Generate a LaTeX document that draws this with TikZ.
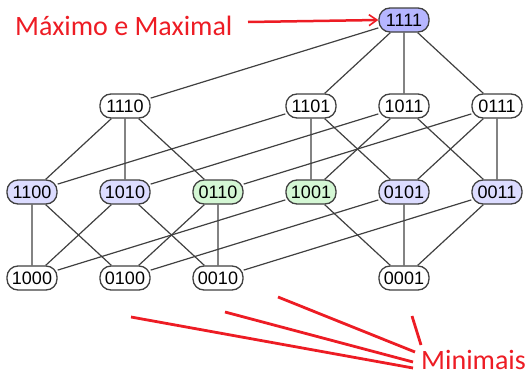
\documentclass[tikz,border=0pt]{standalone}
\usepackage{fontspec}
\setmainfont{Liberation Sans}
\newfontfamily\redfont{Carlito}
\usetikzlibrary{arrows.meta}
\definecolor{topblue}{RGB}{182,182,255}
\definecolor{lblue}{RGB}{220,220,255}
\definecolor{lgreen}{RGB}{212,247,212}
\definecolor{edgegray}{RGB}{64,64,64}
\definecolor{annred}{RGB}{237,28,36}
\begin{document}
\begin{tikzpicture}[x=1pt,y=-1pt,
  elem/.style={draw=edgegray,line width=1.3pt,rectangle,rounded corners=11pt,
    minimum width=50pt,minimum height=24pt,inner sep=0pt,
    font=\fontsize{18}{18}\selectfont,fill=white},
  bluenode/.style={elem,fill=lblue},
  greennode/.style={elem,fill=lgreen},
  topnode/.style={elem,fill=topblue},
  link/.style={draw=edgegray,line width=1.2pt},
  ann/.style={draw=annred,line width=2.8pt},
  anntext/.style={text=annred,font=\redfont\fontsize{28}{28}\selectfont,inner sep=0pt}]
\useasboundingbox (0,0) rectangle (529,375);
\path
  (404,20) coordinate (p1111)
  (125,106) coordinate (p1110) (311,106) coordinate (p1101) (404,106) coordinate (p1011) (497,106) coordinate (p0111)
  (32,192) coordinate (p1100) (125,192) coordinate (p1010) (218,192) coordinate (p0110)
  (311,192) coordinate (p1001) (404,192) coordinate (p0101) (497,192) coordinate (p0011)
  (32,278) coordinate (p1000) (125,278) coordinate (p0100) (218,278) coordinate (p0010) (404,278) coordinate (p0001);
\node[topnode] (n1111) at (p1111) {1111};
\node[elem] (n1110) at (p1110) {1110};
\node[elem] (n1101) at (p1101) {1101};
\node[elem] (n1011) at (p1011) {1011};
\node[elem] (n0111) at (p0111) {0111};
\node[bluenode] (n1100) at (p1100) {1100};
\node[bluenode] (n1010) at (p1010) {1010};
\node[greennode] (n0110) at (p0110) {0110};
\node[greennode] (n1001) at (p1001) {1001};
\node[bluenode] (n0101) at (p0101) {0101};
\node[bluenode] (n0011) at (p0011) {0011};
\node[elem] (n1000) at (p1000) {1000};
\node[elem] (n0100) at (p0100) {0100};
\node[elem] (n0010) at (p0010) {0010};
\node[elem] (n0001) at (p0001) {0001};
\draw[link] (n1111) -- (n1110) (n1111) -- (n1101) (n1111) -- (n1011) (n1111) -- (n0111);
\draw[link] (n1110) -- (n1100) (n1110) -- (n1010) (n1110) -- (n0110);
\draw[link] (n1101) -- (n1100) (n1101) -- (n1001) (n1101) -- (n0101);
\draw[link] (n1011) -- (n1010) (n1011) -- (n1001) (n1011) -- (n0011);
\draw[link] (n0111) -- (n0110) (n0111) -- (n0101) (n0111) -- (n0011);
\draw[link] (n1100) -- (n1000) (n1100) -- (n0100);
\draw[link] (n1010) -- (n1000) (n1010) -- (n0010);
\draw[link] (n0110) -- (n0100) (n0110) -- (n0010);
\draw[link] (n1001) -- (n1000) (n1001) -- (n0001);
\draw[link] (n0101) -- (n0100) (n0101) -- (n0001);
\draw[link] (n0011) -- (n0010) (n0011) -- (n0001);
% annotations
\node[anntext,anchor=base west] (maxlabel) at (15,35) {Máximo e Maximal};
\coordinate (arrstart) at (248,22);
\draw[ann,line width=2.5pt,-{Straight Barb[length=8pt,width=11pt,line width=1.6pt]}] (arrstart) -- (n1111.west);
\node[anntext,anchor=base west] (minlabel) at (421,369) {Minimais};
\coordinate (m1) at (131,317);
\coordinate (m2) at (225,312);
\coordinate (m3) at (278,297);
\coordinate (m4) at (412,316);
\coordinate (e1) at (413,368);
\coordinate (e2) at (413,362);
\coordinate (e3) at (415,352);
\coordinate (e4) at (421,345);
\draw[ann] (m1) -- (e1);
\draw[ann] (m2) -- (e2);
\draw[ann] (m3) -- (e3);
\draw[ann] (m4) -- (e4);
\end{tikzpicture}
\end{document}
